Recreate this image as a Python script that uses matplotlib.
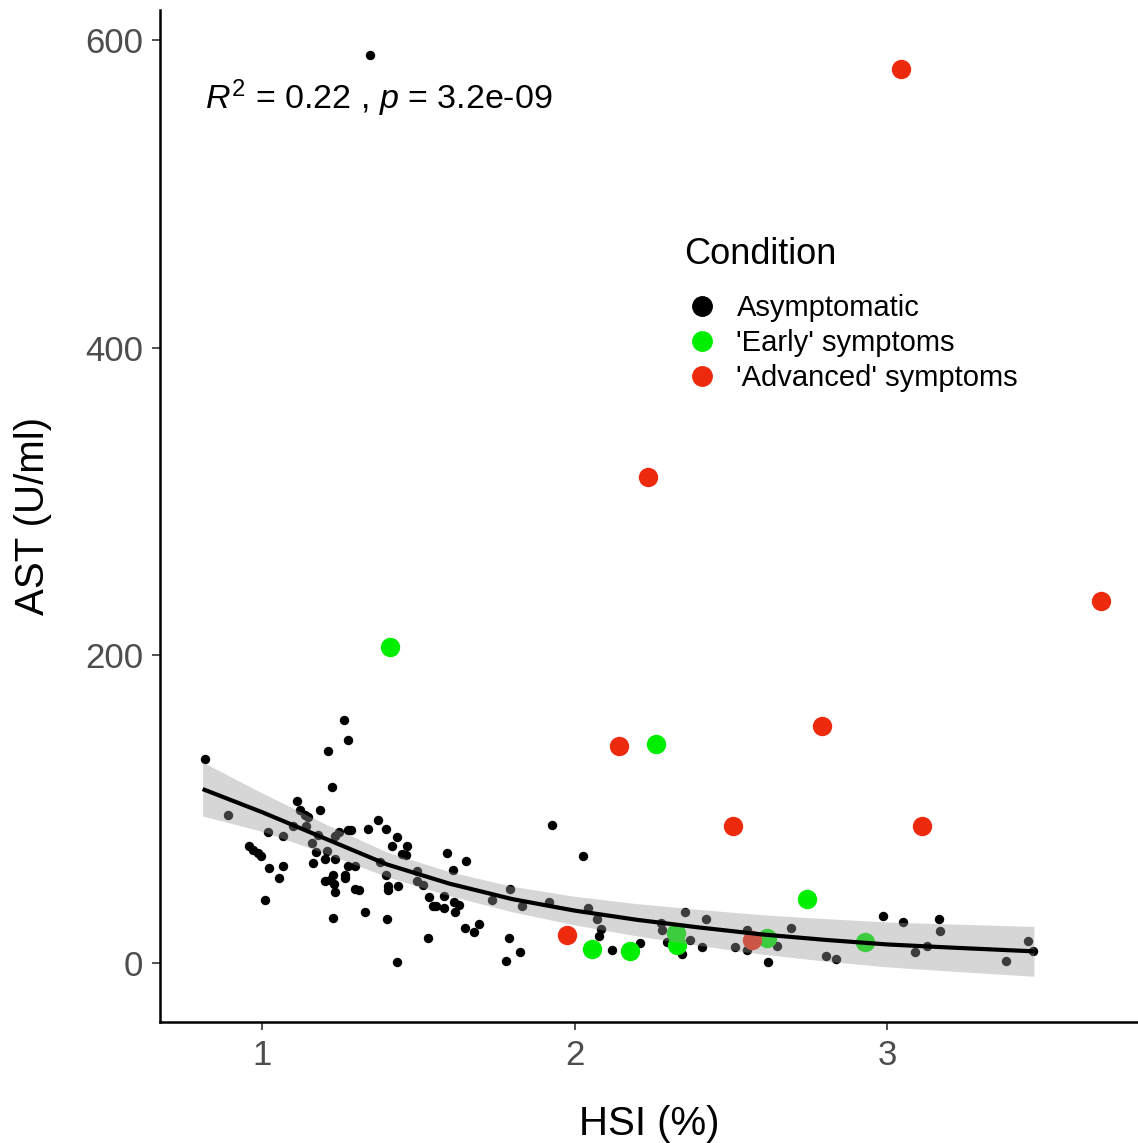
import matplotlib
matplotlib.use('Agg')
import matplotlib.pyplot as plt
from matplotlib.lines import Line2D
import numpy as np

plt.rcParams['font.family'] = ['Liberation Sans', 'DejaVu Sans']
plt.rcParams['mathtext.fontset'] = 'custom'
plt.rcParams['mathtext.rm'] = 'Liberation Sans'
plt.rcParams['mathtext.it'] = 'Liberation Sans:italic'

# Asymptomatic fish (small black points)
asym_hsi = [0.818, 0.890, 1.263, 1.276, 1.212, 1.225, 1.111, 1.122, 1.138, 1.148,
            1.186, 1.020, 1.066, 1.100, 1.140, 1.180, 1.159, 1.173, 1.209, 1.234,
            1.247, 1.234, 1.202, 0.959, 0.972, 0.988, 0.996, 1.023, 1.066, 1.055,
            1.010, 1.162, 1.228, 1.202, 1.218, 1.230, 1.266, 1.234, 1.226, 1.276,
            1.284, 1.338, 1.372, 1.397, 1.431, 1.417, 1.463, 1.449, 1.461, 1.591,
            1.610, 1.276, 1.298, 1.266, 1.298, 1.310, 1.330, 1.399, 1.431, 1.530,
            1.378, 1.397, 1.402, 1.404, 1.434, 1.495, 1.497, 1.516, 1.535, 1.548,
            1.558, 1.582, 1.583, 1.615, 1.617, 1.653, 1.629, 1.650, 1.679, 1.695,
            1.735, 1.927, 2.028, 1.794, 1.833, 1.791, 1.826, 1.781, 1.919, 2.044,
            2.073, 2.084, 2.079, 2.119, 2.210, 2.277, 2.279, 2.295, 2.354, 2.368,
            2.343, 2.407, 2.421, 2.514, 2.551, 2.551, 2.647, 2.692, 2.620, 2.805,
            2.837, 2.988, 3.052, 3.167, 3.170, 3.090, 3.127, 3.381, 3.452, 3.466,
            1.346]
asym_ast = [132.7, 96.0, 157.8, 144.8, 138.0, 114.2, 105.0, 99.2, 96.4, 94.9,
            99.2, 84.9, 82.3, 88.8, 88.8, 83.4, 78.0, 71.9, 72.5, 82.7,
            84.9, 67.6, 67.6, 75.8, 73.2, 71.5, 69.7, 61.7, 62.7, 55.2,
            41.0, 65.0, 57.3, 53.0, 54.0, 51.5, 57.3, 45.8, 29.1, 86.1,
            86.1, 87.3, 92.7, 87.3, 81.9, 75.8, 75.8, 71.0, 70.4, 71.5,
            60.1, 62.7, 62.7, 55.2, 48.0, 47.6, 33.4, 28.5, 0.8, 16.1,
            65.3, 56.9, 49.7, 47.1, 50.2, 59.5, 53.0, 50.8, 42.8, 36.7,
            36.7, 35.6, 43.6, 39.9, 33.4, 66.4, 37.8, 23.0, 20.4, 25.2,
            41.0, 89.5, 69.3, 48.0, 37.1, 16.1, 7.4, 1.5, 39.3, 35.6,
            28.5, 22.0, 17.6, 8.5, 12.8, 25.9, 21.5, 13.9, 32.8, 15.0,
            5.9, 10.6, 28.5, 10.6, 21.5, 8.5, 11.3, 22.6, 0.8, 4.8,
            2.6, 30.2, 26.3, 28.5, 21.0, 7.4, 11.3, 1.3, 14.5, 8.0,
            590.0]

# 'Early' symptoms (green)
early_hsi = [1.410, 2.261, 2.744, 2.057, 2.178, 2.325, 2.327, 2.615, 2.930]
early_ast = [205.2, 142.0, 41.7, 9.1, 7.8, 19.3, 11.7, 16.5, 13.9]

# 'Advanced' symptoms (red)
adv_hsi = [3.045, 2.235, 3.685, 2.142, 2.792, 2.507, 3.112, 1.977, 2.567]
adv_ast = [581.0, 316.0, 235.0, 140.7, 153.7, 89.3, 89.3, 18.2, 15.0]

# fitted curve and its confidence band
fit_hsi = [0.81, 1.0, 1.2, 1.4, 1.6, 1.8, 2.0, 2.2, 2.4, 2.6, 2.8, 3.0, 3.2, 3.47]
fit_ast = [113, 98, 81, 64, 51.5, 41.5, 34, 28, 23, 18.5, 15, 12, 10, 7.5]
fit_half = [17.5, 12.5, 9.5, 8.0, 7.8, 8.3, 9.3, 10.5, 11.7, 12.8, 13.8, 14.6, 15.3, 16.2]

GREEN = '#00EE00'
RED = '#EE2A0E'

fig = plt.figure(figsize=(11.38, 11.43), dpi=100)
ax = fig.add_axes([0.1406, 0.1059, 0.8594, 0.8854])

ax.scatter(asym_hsi, asym_ast, s=46, color='black', linewidths=0, zorder=2)
ax.scatter(early_hsi, early_ast, s=195, color=GREEN, linewidths=0, zorder=3)
ax.scatter(adv_hsi, adv_ast, s=195, color=RED, linewidths=0, zorder=3)

lo = np.array(fit_ast) - np.array(fit_half)
hi = np.array(fit_ast) + np.array(fit_half)
ax.fill_between(fit_hsi, lo, hi, color='#999999', alpha=0.4, linewidth=0, zorder=4)
ax.plot(fit_hsi, fit_ast, color='black', lw=3, zorder=5, solid_capstyle='butt')

ax.set_xlim(0.6736, 3.8032)
ax.set_ylim(-38.4, 619.5)
ax.set_xticks([1, 2, 3])
ax.set_yticks([0, 200, 400, 600])

for side in ['top', 'right']:
    ax.spines[side].set_visible(False)
for side in ['left', 'bottom']:
    ax.spines[side].set_linewidth(1.8)
ax.tick_params(axis='both', length=6, width=1.2, color='#333333',
               labelcolor='#4D4D4D', labelsize=25, pad=6)

ax.set_xlabel('HSI (%)', fontsize=29, labelpad=24)
ax.set_ylabel('AST (U/ml)', fontsize=29, labelpad=24)

ax.text(0.818, 562, r'$R^2$ = 0.22 , $p$ = 3.2e-09', fontsize=24.5,
        va='center', ha='left')

# legend: title drawn separately to get the wider gap under it
fig.text(684 / 1138, 1 - 255 / 1143, 'Condition', fontsize=26,
         ha='left', va='center')
handles = [Line2D([], [], marker='o', ls='', color='black', markersize=14),
           Line2D([], [], marker='o', ls='', color=GREEN, markersize=14),
           Line2D([], [], marker='o', ls='', color=RED, markersize=14)]
labels = ['Asymptomatic', "'Early' symptoms", "'Advanced' symptoms"]
leg = fig.legend(handles, labels, loc='upper left',
                 bbox_to_anchor=(684 / 1138, 1 - 294 / 1143), frameon=False,
                 fontsize=21, borderpad=0, borderaxespad=0, handlelength=1.2,
                 handletextpad=0.6, labelspacing=0.24)

fig.savefig('out.png', dpi=100)
